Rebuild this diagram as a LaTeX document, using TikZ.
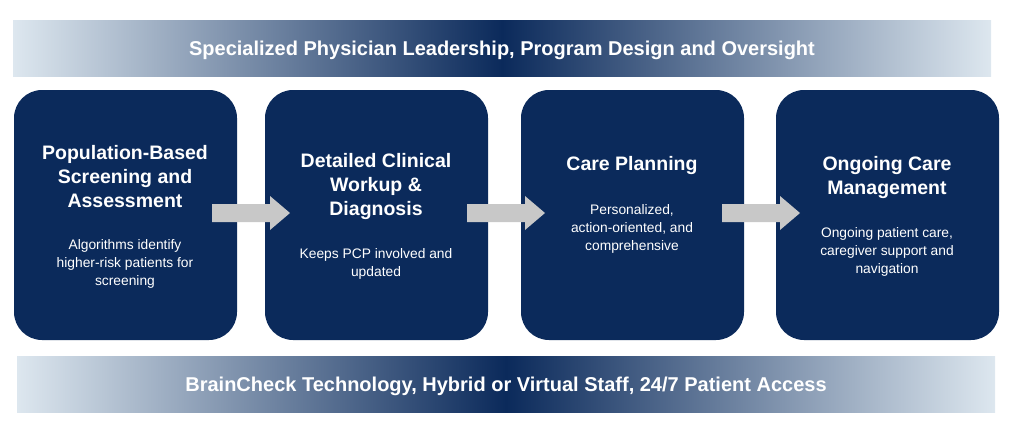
\documentclass[tikz,border=0pt]{standalone}
\usepackage{fontspec}
\setmainfont{Liberation Sans}
\usetikzlibrary{calc}
\definecolor{navy}{HTML}{0B2A5B}
\definecolor{lite}{HTML}{DDE7EF}
\definecolor{arr}{HTML}{C8C8C8}
\begin{document}
\begin{tikzpicture}[x=1pt,y=-1pt,
 banner/.style={draw=none,left color=lite,right color=lite,middle color=navy},
 box/.style={fill=navy,rounded corners=28pt,draw=none},
 ttl/.style={text=white,font=\bfseries\fontsize{19.5}{24}\selectfont,align=center},
 body/.style={text=white,font=\fontsize{13.8}{18}\selectfont,align=center},
 ban/.style={text=white,font=\bfseries\fontsize{20}{24}\selectfont},
 garrow/.style={fill=arr,draw=none}]
\useasboundingbox (0,0) rectangle (1012,429);
\shade[banner] (13,20) rectangle (991,76);
\node[ban] (top) at (502,50) {Specialized Physician Leadership, Program Design and Oversight};
\shade[banner] (17,356) rectangle (995,412);
\node[ban] (bot) at (506,386) {BrainCheck Technology, Hybrid or Virtual Staff, 24/7 Patient Access};
\foreach \x/\n in {14/a,265/b,521/c,776/d}{
 \path[box] (\x,90) rectangle ++(223,250);
 \coordinate (\n) at (\x+111.5,215);
}
\node[ttl] (ta) at (125,177) {Population-Based\\Screening and\\Assessment};
\node[body] (ba) at (125,264) {Algorithms identify\\higher-risk patients for\\screening};
\node[ttl] (tb) at (376,186) {Detailed Clinical\\Workup \&\\Diagnosis};
\node[body] (bb) at (376,264) {Keeps PCP involved and\\updated};
\node[ttl] (tc) at (632,165) {Care Planning};
\node[body] (bc) at (632,229) {Personalized,\\action-oriented, and\\comprehensive};
\node[ttl] (td) at (887,177) {Ongoing Care\\Management};
\node[body] (bd) at (887,252) {Ongoing patient care,\\caregiver support and\\navigation};
\foreach \s in {212,467,722}{
 \path[garrow] (\s,204) -- (\s+58,204) -- (\s+58,196) -- (\s+78,213) -- (\s+58,230) -- (\s+58,222) -- (\s,222) -- cycle;
}
\end{tikzpicture}
\end{document}
